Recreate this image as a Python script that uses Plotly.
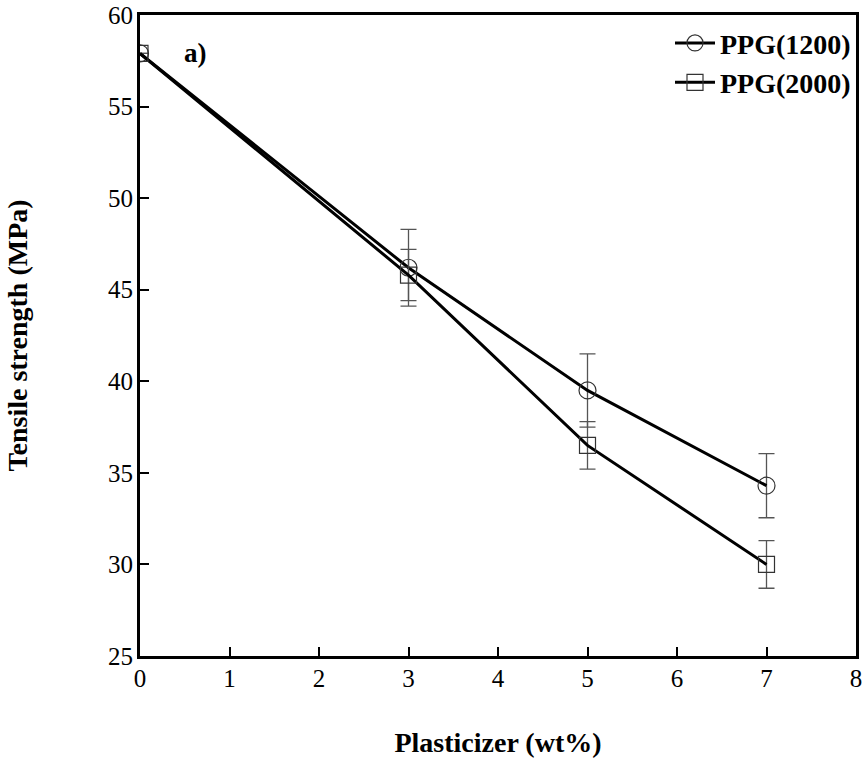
import plotly.graph_objects as go

x_vals = [0, 3, 5, 7]
ppg1200 = [57.9, 46.2, 39.5, 34.3]
ppg1200_err = [0, 2.1, 2.0, 1.75]
ppg2000 = [57.9, 45.8, 36.5, 30.0]
ppg2000_err = [0, 1.4, 1.3, 1.3]
x_ticks = [0, 1, 2, 3, 4, 5, 6, 7, 8]
y_ticks = [25, 30, 35, 40, 45, 50, 55, 60]

FONT = "Liberation Serif, Times New Roman, serif"

fig = go.Figure()
fig.add_trace(go.Scatter(
    x=x_vals, y=ppg1200, name="<b>PPG(1200)</b>", mode="lines+markers",
    line=dict(color="black", width=3),
    marker=dict(symbol="circle-open", size=17, color="#333", line=dict(width=1.2, color="#333")),
    error_y=dict(type="data", array=ppg1200_err, color="#555", thickness=1.3, width=8),
))
fig.add_trace(go.Scatter(
    x=x_vals, y=ppg2000, name="<b>PPG(2000)</b>", mode="lines+markers",
    line=dict(color="black", width=3),
    marker=dict(symbol="square-open", size=16, color="#333", line=dict(width=1.2, color="#333")),
    error_y=dict(type="data", array=ppg2000_err, color="#555", thickness=1.3, width=8),
))

fig.add_annotation(x=0.62, y=57.9, text="<b>a)</b>", showarrow=False,
                   font=dict(family=FONT, size=27, color="black"), xanchor="center")

fig.update_layout(
    width=868, height=769,
    margin=dict(l=140, r=12, t=15, b=113),
    paper_bgcolor="white", plot_bgcolor="white",
    font=dict(family=FONT, size=26, color="black"),
    showlegend=True,
    legend=dict(x=1.0, y=0.995, xanchor="right", yanchor="top",
                bgcolor="rgba(0,0,0,0)", font=dict(family=FONT, size=28, color="black"),
                itemwidth=40, tracegroupgap=9),
    xaxis=dict(range=[0, 8], tickvals=x_ticks, ticks="inside", ticklen=9, tickwidth=2,
               tickcolor="black", showline=True, linewidth=3, linecolor="black", mirror=True,
               showgrid=False, zeroline=False, ticklabelstandoff=-2, automargin=False,
               tickfont=dict(size=25),
               title=dict(text="<b>Plasticizer (wt%)</b>", font=dict(size=28), standoff=42)),
    yaxis=dict(range=[25, 60], tickvals=y_ticks, ticks="inside", ticklen=9, tickwidth=2,
               tickcolor="black", showline=True, linewidth=3, linecolor="black", mirror=True,
               showgrid=False, zeroline=False, ticklabelstandoff=-1, automargin=False,
               tickfont=dict(size=25),
               title=dict(text="<b>Tensile strength (MPa)</b>", font=dict(size=28), standoff=73)),
)

fig.write_html("out.html")
